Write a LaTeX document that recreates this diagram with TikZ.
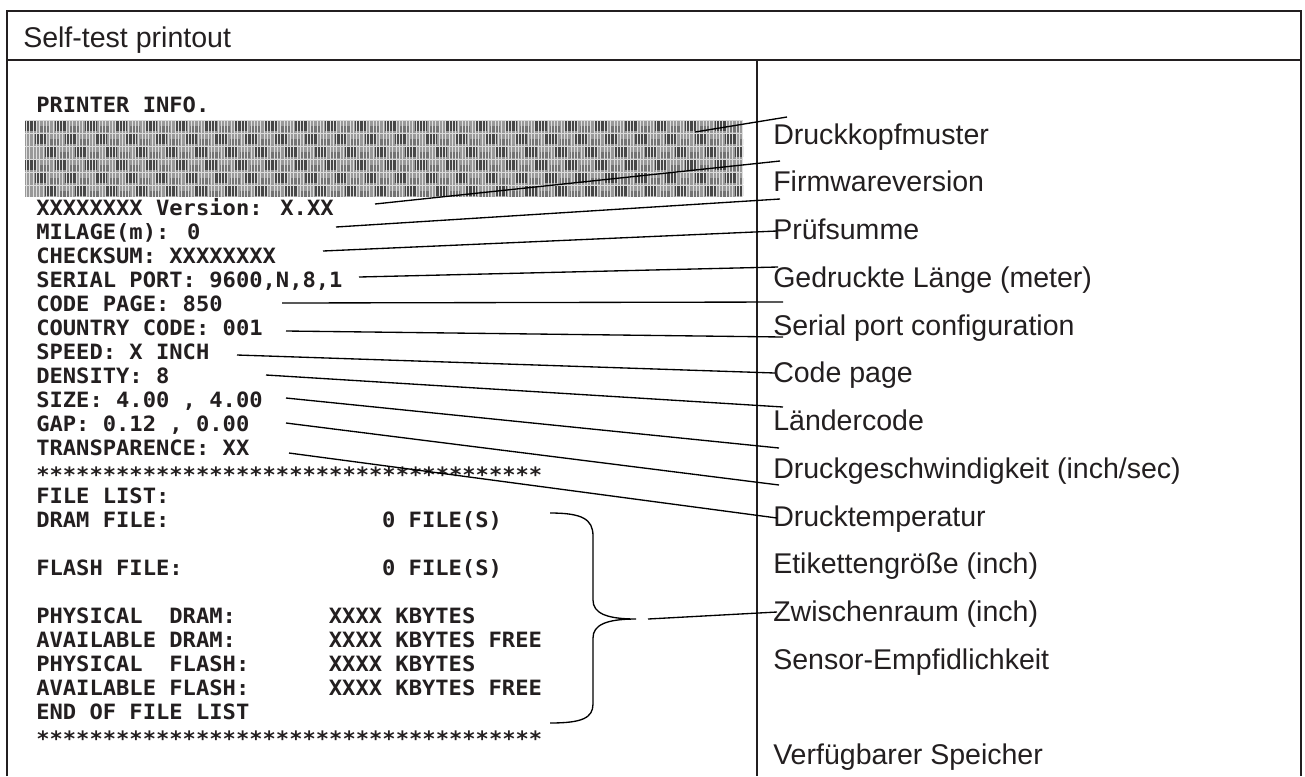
\documentclass[tikz,border=0pt]{standalone}
\usepackage{fontspec}
\setmainfont{Liberation Sans}
\newfontfamily\prtfont[FakeStretch=1.05]{DejaVu Sans Mono}
\definecolor{ink}{HTML}{231F20}
\begin{document}
\begin{tikzpicture}[x=0.75pt,y=-0.75pt,
  frame/.style={draw=ink,line width=1.5pt},
  leader/.style={draw=black,line width=1pt},
  lab/.style={anchor=base west,inner sep=0pt,text=ink,font=\fontsize{21.4}{25}\selectfont},
  prt/.style={anchor=base west,inner sep=0pt,text=ink,font=\prtfont\bfseries\fontsize{15.8}{19}\selectfont},
  hdr/.style={anchor=base west,inner sep=0pt,text=ink,font=\fontsize{21.4}{25}\selectfont}]
\useasboundingbox[fill=white] (0,0) rectangle (1305,776);

% frame
\draw[frame] (7,776) |- (1301,11) -- (1301,776);
\draw[frame] (7,60) -- (1301,60);
\draw[frame,line width=1.2pt] (757,60) -- (757,776);
\node[hdr] (title) at (23,47) {Self-test printout};

% printhead test pattern
\begin{scope}
  \clip (25,120) rectangle (743,197);
  \fill[black!40] (25,120) rectangle (743,197);
  \foreach \i in {0,...,24} {
    \foreach \j in {0,...,5} {
      \pgfmathsetmacro\xx{25+\i*30+mod(\j,3)*10}
      \fill[black!72] (\xx,{120+\j*13}) rectangle ++(12,11);
      \fill[black!55] ({\xx+15},{120+\j*13+6}) rectangle ++(10,6);
    }
  }
  \foreach \k in {0,...,217} \draw[black!12,line width=0.6pt] ({26.5+\k*3.3},120) -- ++(0,77);
  \foreach \j in {0,...,6} \draw[black!15,line width=0.4pt] (25,{120+\j*13}) -- ++(718,0);
\end{scope}
\coordinate (pat) at (695,132);

% printout text
\node[prt] (pinfo) at (36,112) {PRINTER INFO.};
\node[prt] (p0) at (36,215.5) {XXXXXXXX Version: X.XX};
\node[prt] (p1) at (36,239.5) {MILAGE(m): 0};
\node[prt] (p2) at (36,263.5) {CHECKSUM: XXXXXXXX};
\node[prt] (p3) at (36,287.5) {SERIAL PORT: 9600,N,8,1};
\node[prt] (p4) at (36,311.5) {CODE PAGE: 850};
\node[prt] (p5) at (36,335.5) {COUNTRY CODE: 001};
\node[prt] (p6) at (36,359.5) {SPEED: X INCH};
\node[prt] (p7) at (36,383.5) {DENSITY: 8};
\node[prt] (p8) at (36,407.5) {SIZE: 4.00 , 4.00};
\node[prt] (p9) at (36,431.5) {GAP: 0.12 , 0.00};
\node[prt] (p10) at (36,455.5) {TRANSPARENCE: XX};
\node[prt] (p11) at (36,482) {**************************************};
\node[prt] (p12) at (36,503.5) {FILE LIST:};
\node[prt] (p13) at (36,527.5) {DRAM FILE:};
\node[prt] (p13b) at (381.8,527.5) {0 FILE(S)};
\node[prt] (p15) at (36,575.5) {FLASH FILE:};
\node[prt] (p15b) at (381.8,575.5) {0 FILE(S)};
\node[prt] (p17) at (36,623.5) {PHYSICAL\ \ DRAM:};
\node[prt] (p17b) at (328.6,623.5) {XXXX KBYTES};
\node[prt] (p18) at (36,647.5) {AVAILABLE DRAM:};
\node[prt] (p18b) at (328.6,647.5) {XXXX KBYTES FREE};
\node[prt] (p19) at (36,671.5) {PHYSICAL\ \ FLASH:};
\node[prt] (p19b) at (328.6,671.5) {XXXX KBYTES};
\node[prt] (p20) at (36,695.5) {AVAILABLE FLASH:};
\node[prt] (p20b) at (328.6,695.5) {XXXX KBYTES FREE};
\node[prt] (p21) at (36,719.5) {END OF FILE LIST};
\node[prt] (p22) at (36,746) {**************************************};

% labels
\node[lab] (l0) at (773,144) {Druckkopfmuster};
\node[lab] (l1) at (773,191.75) {Firmwareversion};
\node[lab] (l2) at (773,239.5) {Prüfsumme};
\node[lab] (l3) at (773,287.25) {Gedruckte Länge (meter)};
\node[lab] (l4) at (773,335) {Serial port configuration};
\node[lab] (l5) at (773,382.75) {Code page};
\node[lab] (l6) at (773,430.5) {Ländercode};
\node[lab] (l7) at (773,478.25) {Druckgeschwindigkeit (inch/sec)};
\node[lab] (l8) at (773,526) {Drucktemperatur};
\node[lab] (l9) at (773,573.75) {Etikettengröße (inch)};
\node[lab] (l10) at (773,621.5) {Zwischenraum (inch)};
\node[lab] (l11) at (773,669.25) {Sensor-Empfidlichkeit};
\node[lab] (l13) at (773,764.75) {Verfügbarer Speicher};

% leader start / end points
\coordinate (s1) at (375,204);  \coordinate (e1) at (780,161);
\coordinate (s2) at (336,227);  \coordinate (e2) at (780,199);
\coordinate (s3) at (323,251);  \coordinate (e3) at (777,231);
\coordinate (s4) at (359,277);  \coordinate (e4) at (778,267);
\coordinate (s5) at (282,303);  \coordinate (e5) at (783,302);
\coordinate (s6) at (286,331);  \coordinate (e6) at (783,337);
\coordinate (s7) at (237,355);  \coordinate (e7) at (775,373);
\coordinate (s8) at (266,375);  \coordinate (e8) at (783,407);
\coordinate (s9) at (286,398);  \coordinate (e9) at (779,448);
\coordinate (s10) at (286,423); \coordinate (e10) at (779,485);
\coordinate (s11) at (289,453); \coordinate (e11) at (777,518);
\coordinate (e0) at (787,117);
\coordinate (btip) at (636,619);
\coordinate (bs) at (648,619);  \coordinate (be) at (777,612);

\draw[leader] (pat) -- (e0);
\foreach \n in {1,...,11} \draw[leader] (s\n) -- (e\n);

% brace
\draw[leader] (550,513) .. controls (582,513) and (593,519) .. (593,536)
  -- (593,600) .. controls (593,613) and (606,619) .. (btip)
  .. controls (606,619) and (593,625) .. (593,638)
  -- (593,704) .. controls (593,718) and (582,723) .. (550,723);
\draw[leader] (bs) -- (be);
\end{tikzpicture}
\end{document}
